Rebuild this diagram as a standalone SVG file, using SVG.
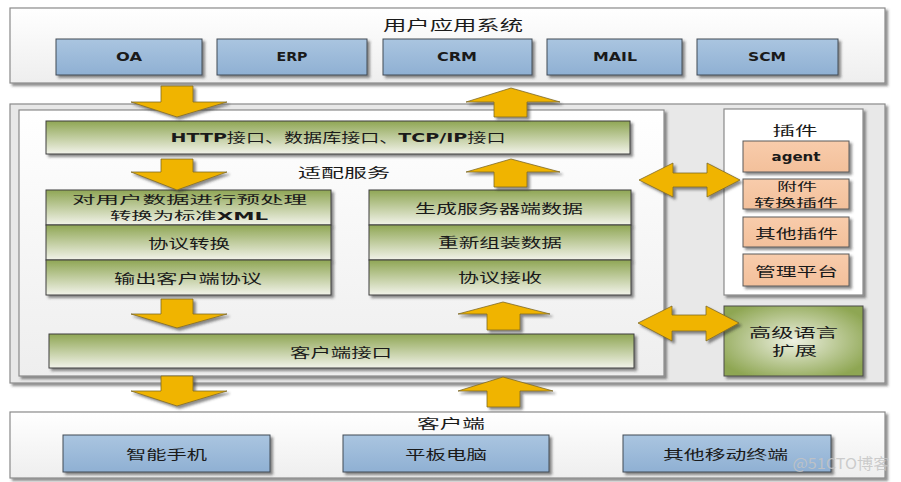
<svg xmlns="http://www.w3.org/2000/svg" width="901" height="482" viewBox="0 0 901 482">
<defs>
<style>
.cont{fill:url(#gCont);stroke:#8a8a8a;stroke-width:1.2}
.blue{fill:url(#gBlue);stroke:#404a55;stroke-width:1}
.bar{fill:url(#gBar);stroke:#3f3f3f;stroke-width:1}
.org{fill:url(#gOrg);stroke:#5a5a5a;stroke-width:1}
.arr{fill:#f0b400;stroke:#7d6a28;stroke-width:0.8;filter:url(#sh)}
.sh{filter:url(#sh)}
.t{font-family:"Noto Sans CJK SC","Noto Sans",sans-serif;font-size:13px;fill:#1a1a1a;text-anchor:middle}
.s{font-size:11px}
.b{font-family:"DejaVu Sans","Noto Sans CJK SC",sans-serif;font-weight:bold;font-size:12px;fill:#1a1a1a;text-anchor:middle}
.l{font-family:"DejaVu Sans",sans-serif;font-weight:bold}
</style>
<filter id="sh" x="-10%" y="-10%" width="125%" height="140%">
<feDropShadow dx="2.5" dy="2.5" stdDeviation="1" flood-color="#333" flood-opacity="0.55"/>
</filter>
<linearGradient id="gCont" x1="0" y1="0" x2="0" y2="1"><stop offset="0" stop-color="#ffffff"/><stop offset="1" stop-color="#eeeeee"/></linearGradient>
<linearGradient id="gBlue" x1="0" y1="0" x2="0" y2="1"><stop offset="0" stop-color="#aac5e0"/><stop offset="1" stop-color="#8fb0d3"/></linearGradient>
<linearGradient id="gBar" x1="0" y1="0" x2="0" y2="1"><stop offset="0" stop-color="#8fa654"/><stop offset="1" stop-color="#f2f3ea"/></linearGradient>
<linearGradient id="gOrg" x1="0" y1="0" x2="0" y2="1"><stop offset="0" stop-color="#f8ccab"/><stop offset="1" stop-color="#f3c09b"/></linearGradient>
<radialGradient id="gRad" cx="0.5" cy="0.5" r="0.6"><stop offset="0" stop-color="#eef1e2"/><stop offset="1" stop-color="#8ea652"/></radialGradient>
</defs>

<g id="app-system">
<rect class="cont sh" x="10" y="8" width="875" height="75"/>
<text class="t" x="453" y="30" style="font-size:14px" textLength="140" lengthAdjust="spacingAndGlyphs">用户应用系统</text>
</g>
<g id="oa"><rect class="blue sh" x="56" y="39" width="146" height="36"/><text class="b" x="129" y="61" textLength="26" lengthAdjust="spacingAndGlyphs">OA</text></g>
<g id="erp"><rect class="blue sh" x="217" y="39" width="150" height="36"/><text class="b" x="292" y="61" textLength="31" lengthAdjust="spacingAndGlyphs">ERP</text></g>
<g id="crm"><rect class="blue sh" x="383" y="39" width="149" height="36"/><text class="b" x="457" y="61" textLength="40" lengthAdjust="spacingAndGlyphs">CRM</text></g>
<g id="mail"><rect class="blue sh" x="547" y="39" width="135" height="36"/><text class="b" x="615" y="61" textLength="44" lengthAdjust="spacingAndGlyphs">MAIL</text></g>
<g id="scm"><rect class="blue sh" x="697" y="39" width="141" height="36"/><text class="b" x="767" y="61" textLength="38" lengthAdjust="spacingAndGlyphs">SCM</text></g>

<g id="middle">
<rect x="10" y="104" width="875" height="279" fill="#e8e8e8" stroke="#8a8a8a" stroke-width="1.2" class="sh"/>
<rect class="cont sh" x="19" y="110" width="645" height="266"/>
<text class="t" x="344" y="177" textLength="92" lengthAdjust="spacingAndGlyphs">适配服务</text>
</g>

<g id="http-interfaces">
<rect class="bar sh" x="46" y="121" width="584" height="33"/>
<text class="t" x="338" y="142" textLength="335" lengthAdjust="spacingAndGlyphs"><tspan class="l">HTTP</tspan>接口、数据库接口、<tspan class="l">TCP/IP</tspan>接口</text>
</g>

<g id="preprocess"><rect class="bar sh" x="46" y="190" width="285" height="35"/>
<text class="t s" x="189.5" y="204" textLength="235" lengthAdjust="spacingAndGlyphs">对用户数据进行预处理</text>
<text class="t s" x="189" y="220" textLength="158" lengthAdjust="spacingAndGlyphs">转换为标准<tspan class="l">XML</tspan></text></g>
<g id="protocol-convert"><rect class="bar sh" x="46" y="225" width="285" height="35"/>
<text class="t" x="189" y="248" textLength="82" lengthAdjust="spacingAndGlyphs">协议转换</text></g>
<g id="output-protocol"><rect class="bar sh" x="46" y="260" width="285" height="35"/>
<text class="t" x="188" y="283" textLength="148" lengthAdjust="spacingAndGlyphs">输出客户端协议</text></g>

<g id="gen-server-data"><rect class="bar sh" x="369" y="190" width="262" height="35"/>
<text class="t" x="499" y="213" textLength="168" lengthAdjust="spacingAndGlyphs">生成服务器端数据</text></g>
<g id="reassemble"><rect class="bar sh" x="369" y="225" width="262" height="35"/>
<text class="t" x="500" y="247" textLength="124" lengthAdjust="spacingAndGlyphs">重新组装数据</text></g>
<g id="protocol-receive"><rect class="bar sh" x="369" y="260" width="262" height="35"/>
<text class="t" x="500" y="282" textLength="84" lengthAdjust="spacingAndGlyphs">协议接收</text></g>

<g id="client-interface"><rect class="bar sh" x="49" y="334" width="585" height="34"/>
<text class="t" x="341" y="357" textLength="102" lengthAdjust="spacingAndGlyphs">客户端接口</text></g>

<g id="plugins">
<rect x="724" y="109" width="139" height="186" fill="#ffffff" stroke="#8a8a8a" stroke-width="1.2" class="sh"/>
<text class="t" x="795" y="135" textLength="45" lengthAdjust="spacingAndGlyphs">插件</text>
</g>
<g id="agent"><rect class="org sh" x="743" y="141" width="106" height="31"/><text class="b" x="796" y="161" textLength="49" lengthAdjust="spacingAndGlyphs">agent</text></g>
<g id="attach-plugin"><rect class="org sh" x="743" y="179" width="106" height="30"/>
<text class="t s" x="797" y="191" textLength="40" lengthAdjust="spacingAndGlyphs">附件</text>
<text class="t s" x="796" y="207" textLength="84" lengthAdjust="spacingAndGlyphs">转换插件</text></g>
<g id="other-plugins"><rect class="org sh" x="743" y="217" width="106" height="30"/>
<text class="t" x="796.5" y="238" textLength="83" lengthAdjust="spacingAndGlyphs">其他插件</text></g>
<g id="admin-platform"><rect class="org sh" x="743" y="254" width="106" height="32"/>
<text class="t" x="796.5" y="276" textLength="83" lengthAdjust="spacingAndGlyphs">管理平台</text></g>

<g id="hll-ext"><rect x="724" y="306" width="139" height="70" fill="url(#gRad)" stroke="#4a4a4a" stroke-width="1" class="sh"/>
<text class="t" x="793.5" y="337" textLength="89" lengthAdjust="spacingAndGlyphs">高级语言</text>
<text class="t" x="794.5" y="355" textLength="45" lengthAdjust="spacingAndGlyphs">扩展</text></g>

<g id="client">
<rect class="cont sh" x="10" y="412" width="875" height="66"/>
<text class="t" x="451" y="428" textLength="68" lengthAdjust="spacingAndGlyphs">客户端</text>
</g>
<g id="smartphone"><rect class="blue sh" x="63" y="435" width="207" height="37"/><text class="t" x="166.5" y="459" textLength="81" lengthAdjust="spacingAndGlyphs">智能手机</text></g>
<g id="tablet"><rect class="blue sh" x="343" y="435" width="206" height="37"/><text class="t" x="446" y="459" textLength="82" lengthAdjust="spacingAndGlyphs">平板电脑</text></g>
<g id="other-mobile"><rect class="blue sh" x="623" y="435" width="208" height="37"/><text class="t" x="725.5" y="459" textLength="125" lengthAdjust="spacingAndGlyphs">其他移动终端</text></g>

<g id="connectors">
<polygon class="arr" points="161,86 193,86 193,102 227,102 177,117 131,102 161,102"/>
<polygon class="arr" points="161,159 193,159 193,172 227,172 177,190 131,172 161,172"/>
<polygon class="arr" points="161,299 193,299 193,314 227,314 177,328 131,314 161,314"/>
<polygon class="arr" points="161,376 193,376 193,391 227,391 177,406 131,391 161,391"/>
<polygon class="arr" points="494,117 527,117 527,102 560,102 511,88 466,102 494,102"/>
<polygon class="arr" points="494,187 527,187 527,172 560,172 511,159 466,172 494,172"/>
<polygon class="arr" points="487,330 520,330 520,314 550,314 503,302 458,314 487,314"/>
<polygon class="arr" points="487,407 520,407 520,391 553,391 503,377 458,391 487,391"/>
<polygon class="arr" points="639,180 673,163 673,173 707,173 707,163 740,180 707,197 707,187 673,187 673,197"/>
<polygon class="arr" points="638,323 672,306 672,315 706,315 706,306 739,323 706,341 706,331 672,331 672,341"/>
</g>

<text x="841" y="469" font-family="Noto Sans CJK SC, sans-serif" font-size="15" fill="#c4c4c4" fill-opacity="0.85" text-anchor="middle" textLength="97" lengthAdjust="spacingAndGlyphs">@51CTO博客</text>
</svg>
